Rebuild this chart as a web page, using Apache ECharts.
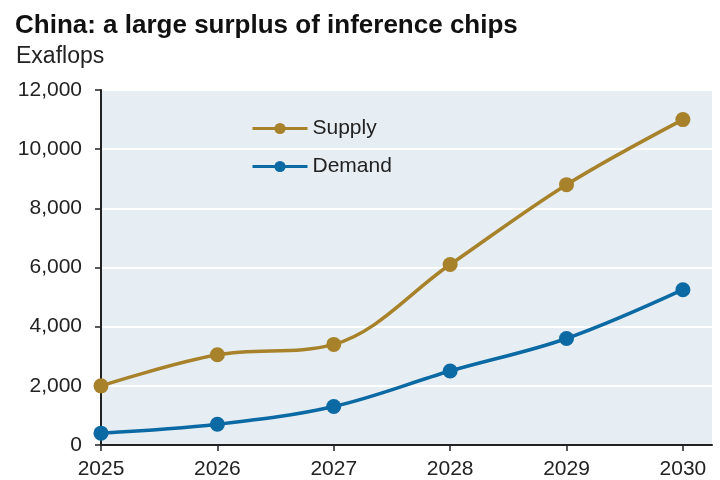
<!DOCTYPE html>
<html><head><meta charset="utf-8">
<script src="https://cdn.jsdelivr.net/npm/echarts@6/dist/echarts.min.js"></script>
<style>html,body{margin:0;padding:0;background:#fff}#c{width:720px;height:480px}</style>
</head><body><div id="c"></div>
<script>
var years = [2025, 2026, 2027, 2028, 2029, 2030];
var supply = [2000, 3050, 3400, 6100, 8800, 11000];
var demand = [400, 700, 1300, 2500, 3600, 5250];
var titleText = 'China: a large surplus of inference chips';
var subtitleText = 'Exaflops';

var chart = echarts.init(document.getElementById('c'));
var ff = '"Liberation Sans", Arial, sans-serif';
function pairs(v){ return years.map(function(y,i){ return [y, v[i]]; }); }
chart.setOption({
  animation: false,
  textStyle: {fontFamily: ff},
  title: [
    {text: titleText, left: 10, top: 8, textStyle: {fontFamily: ff, fontSize: 26, fontWeight: 'bold', color: '#111'}},
    {text: subtitleText, left: 11, top: 40, textStyle: {fontFamily: ff, fontSize: 23, fontWeight: 'normal', color: '#222'}}
  ],
  grid: {left: 101, right: 8, top: 90, bottom: 35, show: true, backgroundColor: '#e6eef4', borderWidth: 0,
         containLabel: false, outerBoundsMode: 'none'},
  legend: {
    orient: 'vertical', left: 246, top: 113, itemGap: 17, itemWidth: 55, itemHeight: 14,
    lineStyle: {width: 3},
    textStyle: {fontFamily: ff, fontSize: 21, color: '#222'},
    data: ['Supply', 'Demand']
  },
  xAxis: {
    type: 'value', min: 2025, max: 2030.25, interval: 1,
    axisLine: {show: true, onZero: false, lineStyle: {color: '#222', width: 2}},
    axisTick: {show: true, length: 6, lineStyle: {color: '#222', width: 1.5}},
    axisLabel: {fontSize: 21, color: '#222', margin: 14, showMaxLabel: false, formatter: function(v){ return String(v); }},
    splitLine: {show: false}
  },
  yAxis: {
    type: 'value', min: 0, max: 12000, interval: 2000,
    axisLine: {show: true, lineStyle: {color: '#222', width: 2}},
    axisTick: {show: true, length: 6, lineStyle: {color: '#222', width: 1.5}},
    axisLabel: {fontSize: 21, color: '#222', margin: 19, formatter: function(v){ return v.toLocaleString('en-US'); }},
    splitLine: {show: true, lineStyle: {color: '#ffffff', width: 2}}
  },
  series: [
    {name: 'Supply', type: 'line', data: pairs(supply), smooth: 0.35, symbol: 'circle', symbolSize: 15,
     itemStyle: {color: '#a8822a'}, lineStyle: {color: '#a8822a', width: 3.5}},
    {name: 'Demand', type: 'line', data: pairs(demand), smooth: 0.35, symbol: 'circle', symbolSize: 15,
     itemStyle: {color: '#0b69a3'}, lineStyle: {color: '#0b69a3', width: 3.5}}
  ]
});
</script></body></html>
